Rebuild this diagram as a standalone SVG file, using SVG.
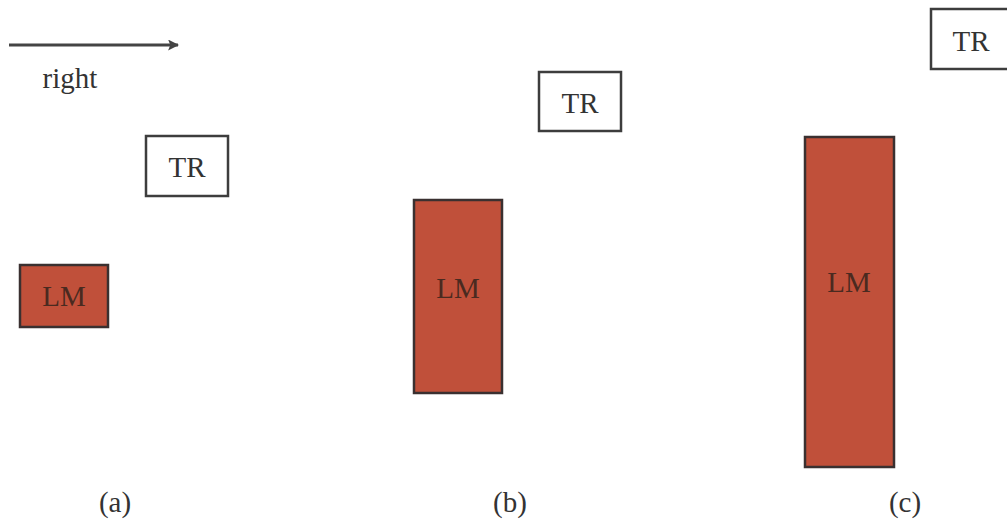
<svg xmlns="http://www.w3.org/2000/svg" width="1007" height="523" viewBox="0 0 1007 523">
<style>
.bg{fill:#ffffff}
.tr rect{fill:#ffffff;stroke:#3d3d3d;stroke-width:2.5}
.lm rect{fill:#c0503a;stroke:#3a3030;stroke-width:2.5}
text{font-family:"Liberation Serif","Times New Roman",serif;font-size:29px;fill:#333333}
.lm text{fill:#4a2a20;text-anchor:middle}
.tr text{text-anchor:middle}
.lab{text-anchor:middle}
</style>
<defs>
<marker id="ah" viewBox="0 0 10 10" refX="9" refY="5" markerWidth="11" markerHeight="11" markerUnits="userSpaceOnUse" orient="auto">
<path d="M0,0 L10,5 L0,10 L2,5 Z" fill="#444444"/>
</marker>
</defs>
<rect class="bg" x="0" y="0" width="1007" height="523"/>
<g id="connectors">
<line x1="9" y1="45" x2="178" y2="45" stroke="#444444" stroke-width="3" marker-end="url(#ah)"/>
</g>
<text x="70" y="88" class="lab">right</text>
<g id="tr-a" class="tr"><rect x="146" y="136" width="82" height="60"/><text x="187" y="177">TR</text></g>
<g id="lm-a" class="lm"><rect x="20" y="265" width="88" height="62"/><text x="64" y="306">LM</text></g>
<g id="tr-b" class="tr"><rect x="539" y="72" width="82" height="59"/><text x="580" y="113">TR</text></g>
<g id="lm-b" class="lm"><rect x="414" y="200" width="88" height="193"/><text x="458" y="298">LM</text></g>
<g id="tr-c" class="tr"><rect x="931" y="9" width="82" height="60"/><text x="971" y="51">TR</text></g>
<g id="lm-c" class="lm"><rect x="805" y="137" width="89" height="330"/><text x="849" y="292">LM</text></g>
<text x="115" y="512" class="lab">(a)</text>
<text x="510" y="512" class="lab">(b)</text>
<text x="905" y="512" class="lab">(c)</text>
</svg>
